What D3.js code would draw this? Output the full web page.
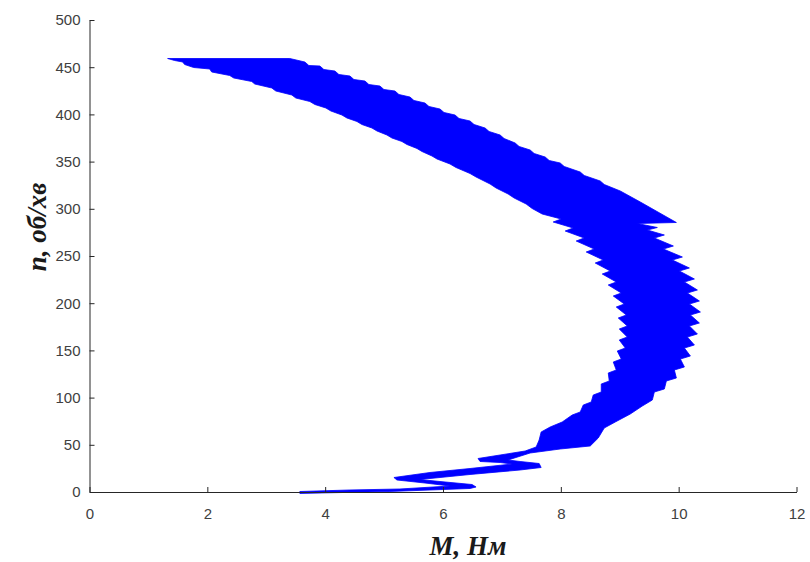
<!DOCTYPE html>
<html>
<head>
<meta charset="utf-8">
<script src="https://cdn.jsdelivr.net/npm/d3@7"></script>
<style>
  html, body { margin: 0; padding: 0; background: #ffffff; }
  svg { display: block; }
</style>
</head>
<body>
<svg id="chart" width="810" height="562"></svg>
<script>
// ---- data ----
const xTicks = [0, 2, 4, 6, 8, 10, 12];
const yTicks = [0, 50, 100, 150, 200, 250, 300, 350, 400, 450, 500];
const xTitle = "M, Нм";
const yTitle = "n, об/хв";

// Outline of the oscillating torque–speed trajectory (M in N·m, n in rpm)
const outlineM = [
  3.570, 5.099, 6.459, 6.561, 6.493, 5.949, 5.609, 6.459, 7.309, 7.666, 7.632, 7.309, 7.105, 7.479, 7.989, 8.499, 8.635, 8.737, 8.924, 9.179, 9.383,
  9.553, 9.587, 9.757, 9.791, 9.961, 9.927, 10.097, 10.029, 10.199, 10.097, 10.267, 10.148, 10.318, 10.182, 10.352, 10.199, 10.369, 10.182, 10.352, 10.148, 10.318, 10.097, 10.267, 10.012, 10.182, 9.893, 10.063, 9.740, 9.910, 9.587, 9.757, 9.468, 9.638, 9.298, 9.961,
  9.349, 9.009, 8.737, 8.669, 8.397, 8.329, 8.057, 7.989, 7.802, 7.734, 7.547, 7.479, 7.292, 7.224, 7.037, 6.969, 6.782, 6.714, 6.527, 6.459, 6.272, 6.204, 6.017, 5.949, 5.762, 5.694, 5.507, 5.439, 5.252, 5.184, 4.997, 4.929, 4.742, 4.675, 4.488, 4.420, 4.233, 4.165, 3.978, 3.910, 3.723, 3.655, 3.400,
  1.326, 1.445, 1.581, 1.615, 1.768, 2.040, 2.074, 2.380, 2.448, 2.754, 2.805, 3.094, 3.162, 3.434, 3.502, 3.740, 3.825, 4.012, 4.097, 4.284, 4.369, 4.539, 4.624, 4.794, 4.879, 5.048, 5.133, 5.303, 5.388, 5.558, 5.643, 5.813, 5.898, 6.119, 6.221, 6.459, 6.561, 6.799, 6.901, 7.105, 7.207, 7.411, 7.513,
  7.683, 8.006, 7.870, 8.210, 8.074, 8.397, 8.261, 8.567, 8.431, 8.720, 8.584, 8.839, 8.703, 8.941, 8.805, 9.026, 8.890, 9.077, 8.941, 9.111, 8.975, 9.128, 8.992, 9.128, 8.992, 9.094, 8.958, 9.026, 8.890, 8.941, 8.805, 8.822, 8.686, 8.686, 8.550, 8.516, 8.381, 8.329, 8.193,
  8.023, 7.819, 7.666, 7.632, 7.581, 7.394, 6.969, 6.595, 6.629, 6.969, 7.173, 6.459, 5.779, 5.167, 5.218, 5.694, 6.119, 5.269, 4.420, 3.570
];
const outlineN = [
  -1.5, 0.53, 3.71, 5.30, 7.94, 11.12, 13.24, 18.54, 23.31, 25.95, 30.19, 32.31, 33.90, 41.31, 45.55, 48.73, 57.20, 67.80, 74.15, 82.63, 91.10,
  97.46, 105.93, 109.11, 117.59, 120.76, 129.24, 132.42, 140.89, 144.07, 152.54, 155.72, 164.19, 167.37, 175.85, 179.03, 187.50, 190.68, 199.15, 202.33, 210.80, 213.98, 222.46, 225.64, 234.11, 237.29, 245.76, 248.94, 257.41, 260.59, 269.07, 272.25, 277.54, 280.19, 284.43, 285.49,
  307.20, 318.86, 325.74, 329.45, 335.28, 338.98, 344.81, 348.52, 351.17, 354.87, 358.58, 362.29, 366.00, 369.71, 374.47, 378.18, 381.89, 385.59, 389.30, 393.01, 395.66, 399.36, 402.02, 405.72, 408.37, 412.07, 414.73, 418.43, 421.08, 424.79, 426.38, 430.08, 431.67, 435.38, 436.97, 440.68, 442.27, 445.97, 447.56, 451.27, 451.80, 455.51, 459.21,
  459.21, 457.09, 455.51, 452.86, 449.68, 448.10, 444.92, 441.21, 438.56, 434.85, 432.20, 427.97, 424.79, 420.55, 417.37, 413.66, 410.49, 406.78, 403.60, 399.36, 396.19, 392.48, 389.30, 385.59, 382.42, 378.18, 375.00, 371.29, 368.12, 363.88, 360.70, 355.93, 352.75, 347.46, 343.75, 337.39, 333.69, 326.27, 322.03, 315.68, 311.44, 305.09, 300.32,
  294.49, 289.19, 286.02, 279.66, 276.48, 269.07, 265.89, 257.41, 254.24, 245.76, 242.58, 234.11, 230.93, 222.46, 219.28, 210.80, 207.63, 199.15, 195.97, 187.50, 184.32, 175.85, 172.67, 164.19, 161.02, 152.54, 149.36, 140.89, 137.71, 129.24, 126.06, 117.59, 114.41, 105.93, 102.75, 95.34, 92.16, 84.75, 81.57,
  74.15, 68.86, 63.56, 55.08, 47.67, 43.43, 39.19, 35.49, 32.31, 31.25, 29.66, 24.89, 20.66, 15.36, 12.71, 9.53, 6.36, 3.18, 2.12, 0.53
];

// ---- layout ----
const svg = d3.select("#chart");
const x = d3.scaleLinear().domain([0, 12]).range([89.5, 796.5]);
const y = d3.scaleLinear().domain([0, 500]).range([492, 20]);

const axisColor = "#262626";
const labelColor = "#404040";

// band
const pts = outlineM.map((m, i) => [m, outlineN[i]]);
const line = d3.line().x(d => x(d[0])).y(d => y(d[1]));
svg.append("path")
  .attr("d", line(pts) + "Z")
  .attr("fill", "#0000ff")
  .attr("stroke", "#0000ff")
  .attr("stroke-width", 0.8)
  .attr("stroke-linejoin", "miter");

// axes
const xAxis = d3.axisBottom(x).tickValues(xTicks).tickFormat(d3.format("d"))
  .tickSizeInner(-5).tickSizeOuter(0).tickPadding(16);
const yAxis = d3.axisLeft(y).tickValues(yTicks).tickFormat(d3.format("d"))
  .tickSizeInner(-5).tickSizeOuter(0).tickPadding(9);

const gx = svg.append("g").attr("transform", `translate(0,${y(0)})`).call(xAxis);
const gy = svg.append("g").attr("transform", `translate(${x(0)},0)`).call(yAxis);

[gx, gy].forEach(g => {
  g.select(".domain").attr("stroke", axisColor).attr("stroke-width", 1);
  g.selectAll(".tick line").attr("stroke", axisColor).attr("stroke-width", 1);
  g.selectAll(".tick text")
    .attr("fill", labelColor)
    .style("font-family", "'Liberation Sans', Arial, sans-serif")
    .style("font-size", "15px");
});

// titles
svg.append("text")
  .attr("x", 468).attr("y", 555)
  .attr("text-anchor", "middle")
  .style("font-family", "'Liberation Serif', 'Times New Roman', serif")
  .style("font-weight", "bold").style("font-style", "italic")
  .style("font-size", "27px")
  .attr("fill", "#1a1a1a")
  .text(xTitle);

svg.append("text")
  .attr("transform", `translate(46,227) rotate(-90)`)
  .attr("text-anchor", "middle")
  .style("font-family", "'Liberation Serif', 'Times New Roman', serif")
  .style("font-weight", "bold").style("font-style", "italic")
  .style("font-size", "27px")
  .attr("fill", "#1a1a1a")
  .text(yTitle);
</script>
</body>
</html>
